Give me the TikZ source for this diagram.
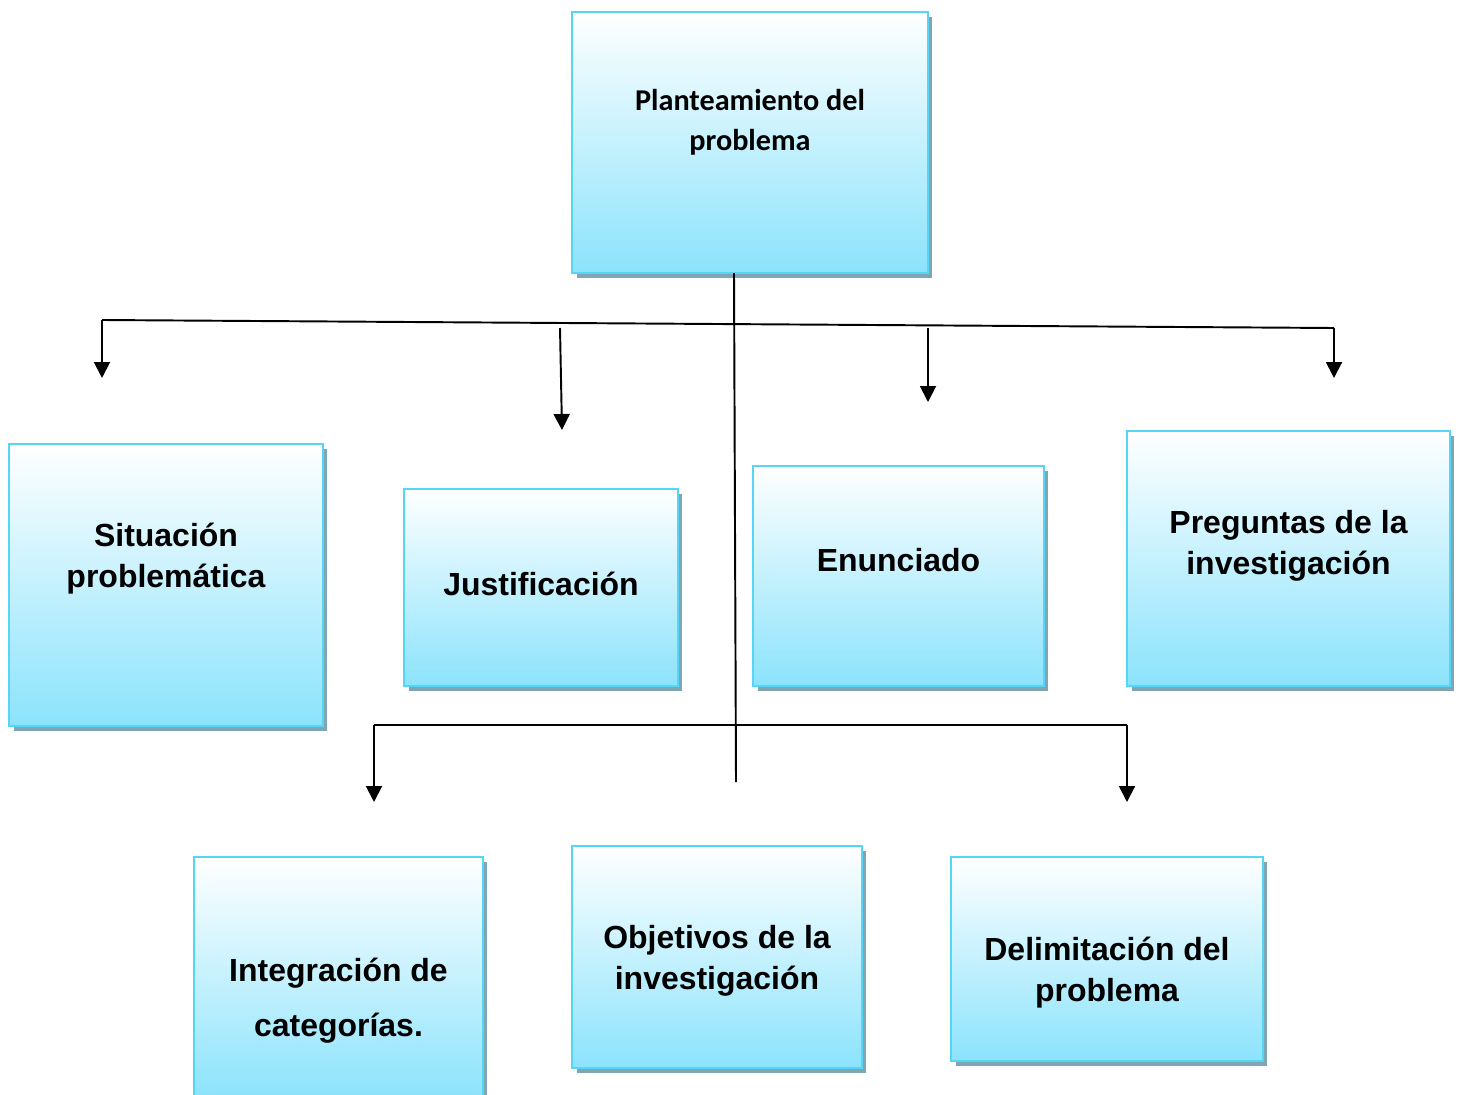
\documentclass[tikz,border=0pt]{standalone}
\usepackage{fontspec}
\setmainfont{Liberation Sans}
\newfontfamily\calfont{Carlito}
\usetikzlibrary{arrows.meta,shadows}
\definecolor{boxline}{HTML}{55D6F6}
\definecolor{boxbot}{HTML}{8BE3FC}
\definecolor{boxshadow}{HTML}{7EA7B3}
\tikzset{
  box/.style={draw=boxline, line width=1.6pt, top color=white, bottom color=boxbot,
    drop shadow={shadow xshift=0.09cm, shadow yshift=-0.1cm, fill=boxshadow, opacity=1}},
  lbl/.style={align=center, font=\fontsize{18.2}{23.3}\selectfont\bfseries},
  conn/.style={line width=1.1pt},
  arr/.style={conn, -{Triangle[length=0.32cm, width=0.32cm]}}
}
\begin{document}
\begin{tikzpicture}[x=0.02cm, y=-0.02cm]
    \useasboundingbox (0,0) rectangle (1460,1095);
    \clip (0,0) rectangle (1460,1095);

    % Boxes
    \node[box, minimum width=7.12cm, minimum height=5.22cm] (top) at (750,142.5) {};
    \node[box, minimum width=6.28cm, minimum height=5.64cm] (sit) at (166,585) {};
    \node[box, minimum width=5.48cm, minimum height=3.94cm] (jus) at (541,587.5) {};
    \node[box, minimum width=5.82cm, minimum height=4.4cm] (enu) at (898.5,576) {};
    \node[box, minimum width=6.46cm, minimum height=5.1cm] (pre) at (1288.5,558.5) {};
    \node[box, minimum width=5.78cm, minimum height=4.86cm] (int) at (338.5,978.5) {};
    \node[box, minimum width=5.8cm, minimum height=4.44cm] (obj) at (717,957) {};
    \node[box, minimum width=6.24cm, minimum height=4.08cm] (del) at (1107,959) {};

    % Labels
    \node[align=center, font=\calfont\fontsize{17.2}{22.8}\selectfont\bfseries] (topT) at (750,122) {Planteamiento del\\problema};
    \node[lbl] (sitT) at (166,559) {Situación\\problemática};
    \node[lbl] (jusT) at (541,584) {Justificación};
    \node[lbl] (enuT) at (898.5,560) {Enunciado};
    \node[lbl] (preT) at (1288.5,546) {Preguntas de la\\investigación};
    \node[lbl, font=\fontsize{18.2}{31.3}\selectfont\bfseries] (intT) at (338.5,1001) {Integración de\\categorías.};
    \node[lbl] (objT) at (717,961) {Objetivos de la\\investigación};
    \node[lbl] (delT) at (1107,973) {Delimitación del\\problema};

    % Stem and branches
    \coordinate (stemTop) at (734,273);
    \coordinate (stem) at (736,782);
    \draw[conn] (stemTop) -- (stem);
    \coordinate (barL) at (102,320);
    \coordinate (barR) at (1334,328);
    \draw[conn] (barL) -- (barR);
    \draw[arr] (barL) -- (102,378) coordinate (tipSit);
    \draw[arr] (barR) -- (1334,378) coordinate (tipPre);
    \draw[arr] (560,328) coordinate (jusTop) -- (562,430) coordinate (tipJus);
    \draw[arr] (928,328) coordinate (enuTop) -- (928,402) coordinate (tipEnu);

    % Lower branch
    \coordinate (lowL) at (374,725);
    \coordinate (lowR) at (1127,725);
    \draw[conn] (lowL) -- (lowR);
    \draw[arr] (lowL) -- (374,802) coordinate (tipInt);
    \draw[arr] (lowR) -- (1127,802) coordinate (tipDel);
\end{tikzpicture}
\end{document}
